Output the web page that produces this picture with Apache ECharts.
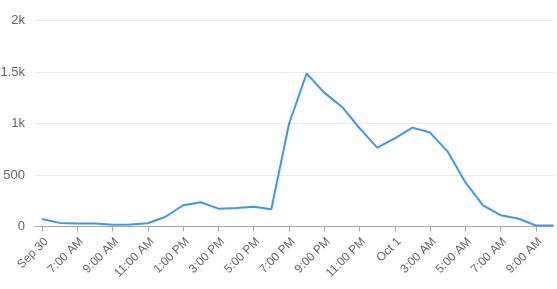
<!DOCTYPE html>
<html>
<head>
<meta charset="utf-8">
<script src="https://cdn.jsdelivr.net/npm/echarts@6/dist/echarts.min.js"></script>
<style>html,body{margin:0;padding:0;background:#fff}#c{width:557px;height:289px}</style>
</head>
<body>
<div id="c"></div>
<script>
// hours since 5:00 AM Sep 30
const hours = [0,1,2,3,4,5,6,7,8,9,10,11,12,13,14,15,16,17,18,19,20,21,22,23,24,25,26,27,28,29];
const values = [72,35,28,30,18,20,31,95,206,235,173,180,192,167,995,1485,1300,1163,955,765,856,960,912,727,430,206,110,78,10,10];
const tickHours = [0,2,4,6,8,10,12,14,16,18,20,22,24,26,28];
const tickLabels = ['Sep 30','7:00 AM','9:00 AM','11:00 AM','1:00 PM','3:00 PM','5:00 PM','7:00 PM','9:00 PM','11:00 PM','Oct 1','3:00 AM','5:00 AM','7:00 AM','9:00 AM'];
const yTicks = [0,500,1000,1500,2000];
const yLabels = ['0','500','1k','1.5k','2k'];

const chart = echarts.init(document.getElementById('c'), null, {renderer:'canvas'});
chart.setOption({
  animation:false,
  grid:{left:35,right:3.5,top:20.5,bottom:62.5,containLabel:false,outerBoundsMode:'none'},
  xAxis:{
    type:'value', min:-0.4, max:29,
    axisLine:{show:true,lineStyle:{color:'#aaaaaa',width:1}},
    axisTick:{show:true,customValues:tickHours,length:5,lineStyle:{color:'#aaaaaa'}},
    splitLine:{show:false},
    axisLabel:{customValues:tickHours,rotate:45,color:'#666',fontSize:12,fontFamily:'Liberation Sans, Arial, sans-serif',margin:9,
      align:'right',verticalAlign:'top',
      formatter:v=>{const i=tickHours.indexOf(Math.round(v));return i>=0?tickLabels[i]:'';}}
  },
  yAxis:{
    type:'value', min:0, max:2000, interval:500,
    axisLine:{show:false}, axisTick:{show:false},
    splitLine:{lineStyle:{color:'#e9e9e9',width:1}},
    axisLabel:{color:'#666',fontSize:13,fontFamily:'Liberation Sans, Arial, sans-serif',margin:10,
      formatter:v=>{const i=yTicks.indexOf(v);return i>=0?yLabels[i]:'';}}
  },
  series:[{
    type:'line',
    data:hours.map((h,i)=>[h,values[i]]),
    showSymbol:false,
    lineStyle:{color:'#3d97ee',width:2},
    itemStyle:{color:'#3d97ee'}
  }]
});
</script>
</body>
</html>
